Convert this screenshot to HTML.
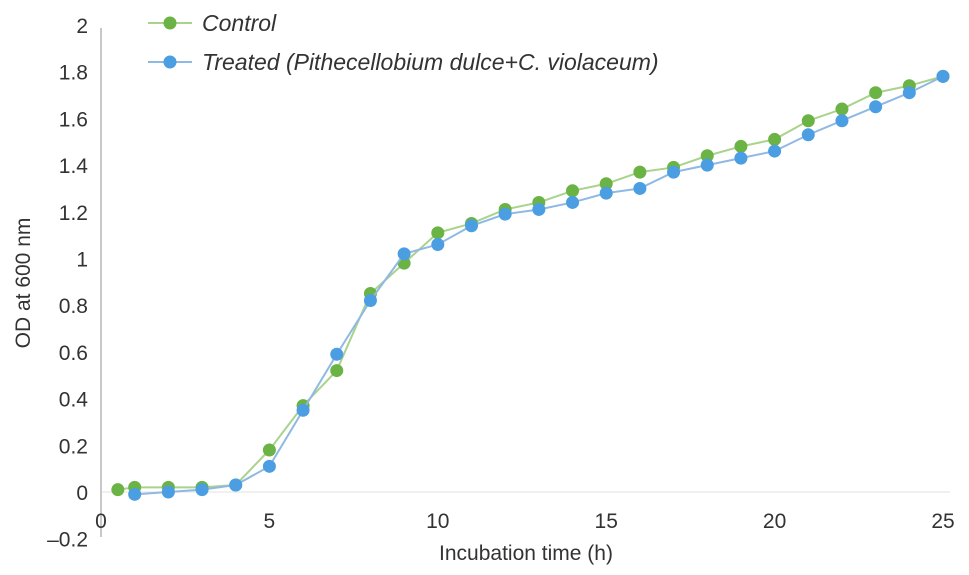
<!DOCTYPE html>
<html><head><meta charset="utf-8"><style>
html,body{margin:0;padding:0;background:#fff;width:969px;height:575px;overflow:hidden}
svg text{font-family:"Liberation Sans",Arial,sans-serif;fill:#333}
</style></head><body>
<svg id="chart" width="969" height="575" xmlns="http://www.w3.org/2000/svg"></svg>
<script>
const hoursControl=[0.5,1,2,3,4,5,6,7,8,9,10,11,12,13,14,15,16,17,18,19,20,21,22,23,24,25];
const controlValues=[0.01,0.02,0.02,0.02,0.03,0.18,0.37,0.52,0.85,0.98,1.11,1.15,1.21,1.24,1.29,1.32,1.37,1.39,1.44,1.48,1.51,1.59,1.64,1.71,1.74,1.78];
const hoursTreated=[1,2,3,4,5,6,7,8,9,10,11,12,13,14,15,16,17,18,19,20,21,22,23,24,25];
const treatedValues=[-0.01,0.00,0.01,0.03,0.11,0.35,0.59,0.82,1.02,1.06,1.14,1.19,1.21,1.24,1.28,1.30,1.37,1.40,1.43,1.46,1.53,1.59,1.65,1.71,1.78];
const yTicks=[-0.2,0,0.2,0.4,0.6,0.8,1,1.2,1.4,1.6,1.8,2];
const yTickLabels=["\u20130.2","0","0.2","0.4","0.6","0.8","1","1.2","1.4","1.6","1.8","2"];
const xTicks=[0,5,10,15,20,25];

const NS="http://www.w3.org/2000/svg";
const svg=document.getElementById('chart');
const X=v=>101+v*(943-101)/25;
const Y=v=>492-v*(492-25)/2;
function mk(tag,attrs,parent){const e=document.createElementNS(NS,tag);for(const k in attrs)e.setAttribute(k,attrs[k]);(parent||svg).appendChild(e);return e;}

// zero line and y axis
let zl=mk('line',{x1:101,x2:950,y1:Y(0),y2:Y(0),stroke:'#ececec','stroke-width':1.5});


let ya=mk('line',{x1:101,x2:101,y1:28,y2:537,stroke:'#c8c8c8','stroke-width':2});



yTicks.forEach((t,i)=>{
  const tx=mk('text',{x:88,y:Y(t)+8,'text-anchor':'end','font-size':21});
  tx.textContent=yTickLabels[i];
  
  
});
xTicks.forEach(t=>{
  const tx=mk('text',{x:X(t),y:528,'text-anchor':'middle','font-size':21});
  tx.textContent=String(t);
  
  
});
const yt=mk('text',{x:0,y:0,'text-anchor':'middle','font-size':21,transform:'translate(30,283) rotate(-90)'});
yt.textContent='OD at 600 nm';


const xt=mk('text',{x:526,y:560,'text-anchor':'middle','font-size':21});
xt.textContent='Incubation time (h)';



function series(xs,ys,lineCol,dotCol,name){
  const g=mk('g',{});
  
  
  const pl=mk('polyline',{points:xs.map((x,i)=>X(x)+','+Y(ys[i])).join(' '),fill:'none',stroke:lineCol,'stroke-width':2},g);
  
  
  xs.forEach((x,i)=>{
    const c=mk('circle',{cx:X(x),cy:Y(ys[i]),r:6.5,fill:dotCol},g);
    
    
  });
}
series(hoursControl,controlValues,'#a9d38c','#6ab344','control');
series(hoursTreated,treatedValues,'#8fb9e3','#4b9ee2','treated');

// legend
function legend(y,lineCol,dotCol,label,name){
  const g=mk('g',{});
  
  
  mk('line',{x1:148,x2:192,y1:y,y2:y,stroke:lineCol,'stroke-width':2},g);
  mk('circle',{cx:170,cy:y,r:6.5,fill:dotCol},g);
  const t=mk('text',{x:202,y:y+8,'font-size':23,'font-style':'italic'},g);
  t.textContent=label;
}
legend(23,'#a9d38c','#6ab344','Control','control');
legend(62,'#8fb9e3','#4b9ee2','Treated (Pithecellobium dulce+C. violaceum)','treated');
</script>
</body></html>
